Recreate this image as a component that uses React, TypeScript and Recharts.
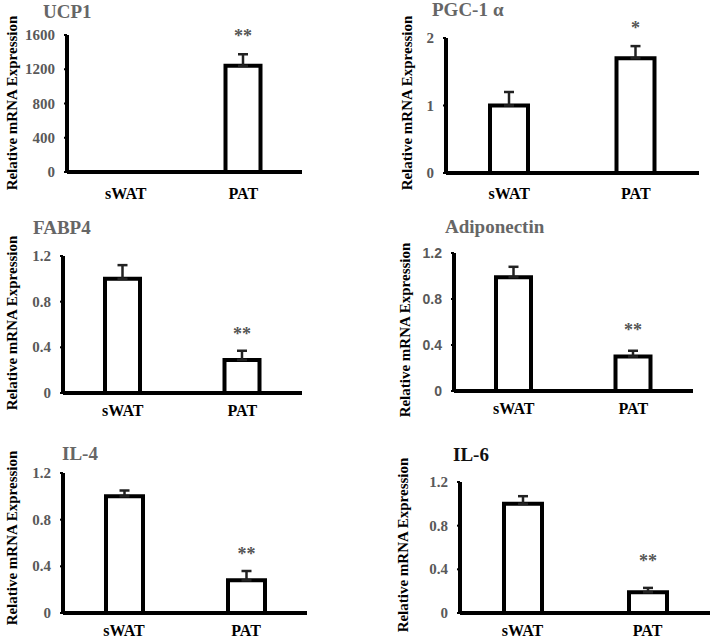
import { BarChart, Bar, XAxis, YAxis, ErrorBar, LabelList } from "recharts";

const GROUPS = ["sWAT", "PAT"];

const UCP1_MEAN = [1, 1240];
const UCP1_SEM = [0.5, 135];
const UCP1_SIG = ["", "**"];
const UCP1_TICKS = [0, 400, 800, 1200, 1600];

const PGC1A_MEAN = [1.0, 1.7];
const PGC1A_SEM = [0.2, 0.18];
const PGC1A_SIG = ["", "*"];
const PGC1A_TICKS = [0, 1, 2];

const FABP4_MEAN = [1.0, 0.29];
const FABP4_SEM = [0.12, 0.08];
const FABP4_SIG = ["", "**"];

const ADIPO_MEAN = [0.99, 0.3];
const ADIPO_SEM = [0.09, 0.05];
const ADIPO_SIG = ["", "**"];

const IL4_MEAN = [1.0, 0.28];
const IL4_SEM = [0.05, 0.08];
const IL4_SIG = ["", "**"];

const IL6_MEAN = [1.0, 0.19];
const IL6_SEM = [0.07, 0.04];
const IL6_SIG = ["", "**"];

const REL_TICKS = [0, 0.4, 0.8, 1.2];

const SERIF = "Liberation Serif, DejaVu Serif, Times New Roman, Times, serif";
const SANS = "Liberation Sans, Arial, sans-serif";

type Panel = {
  title: string;
  greek?: string;
  titleColor: string;
  mean: number[];
  sem: number[];
  sig: string[];
  ticks: number[];
  tickFont: string;
  tickSize: number;
  // layout
  axisX: number;
  top: number;
  zero: number;
  right: number;
  titleX: number;
  titleY: number;
  labelX: number;
  labelY: number;
  catDy: number;
  sigGap: number;
  barSize: number;
};

const PANELS: Panel[] = [
  {
    title: "UCP1", titleColor: "#666", mean: UCP1_MEAN, sem: UCP1_SEM, sig: UCP1_SIG, ticks: UCP1_TICKS,
    tickFont: SERIF, tickSize: 15,
    axisX: 67, top: 35, zero: 172, right: 302, titleX: 43, titleY: 12, labelX: 12, labelY: 103, catDy: 21, sigGap: 21, barSize: 35,
  },
  {
    title: "PGC-1", greek: "α", titleColor: "#666", mean: PGC1A_MEAN, sem: PGC1A_SEM, sig: PGC1A_SIG, ticks: PGC1A_TICKS,
    tickFont: SERIF, tickSize: 15,
    axisX: 446, top: 38, zero: 173, right: 699, titleX: 432, titleY: 10, labelX: 407, labelY: 103, catDy: 20, sigGap: 21, barSize: 38,
  },
  {
    title: "FABP4", titleColor: "#666", mean: FABP4_MEAN, sem: FABP4_SEM, sig: FABP4_SIG, ticks: REL_TICKS,
    tickFont: SERIF, tickSize: 15,
    axisX: 63, top: 256, zero: 393, right: 302, titleX: 33, titleY: 228, labelX: 12, labelY: 323, catDy: 17, sigGap: 20, barSize: 35,
  },
  {
    title: "Adiponectin", titleColor: "#666", mean: ADIPO_MEAN, sem: ADIPO_SEM, sig: ADIPO_SIG, ticks: REL_TICKS,
    tickFont: SANS, tickSize: 14,
    axisX: 454, top: 253, zero: 391, right: 693, titleX: 445, titleY: 227, labelX: 405, labelY: 330, catDy: 17, sigGap: 24, barSize: 35,
  },
  {
    title: "IL-4", titleColor: "#666", mean: IL4_MEAN, sem: IL4_SEM, sig: IL4_SIG, ticks: REL_TICKS,
    tickFont: SERIF, tickSize: 15,
    axisX: 63, top: 473, zero: 613, right: 307, titleX: 62, titleY: 454, labelX: 12, labelY: 538, catDy: 17, sigGap: 20, barSize: 37,
  },
  {
    title: "IL-6", titleColor: "#111", mean: IL6_MEAN, sem: IL6_SEM, sig: IL6_SIG, ticks: REL_TICKS,
    tickFont: SERIF, tickSize: 15,
    axisX: 460, top: 482, zero: 613, right: 710, titleX: 453, titleY: 455, labelX: 403, labelY: 545, catDy: 17, sigGap: 30, barSize: 38,
  },
];

const Y_W = 50;
const M_TOP = 40;
const M_RIGHT = 4;
const X_H = 30;

function GenePanel({ p }: { p: Panel }) {
  const data = GROUPS.map((g, i) => ({
    group: g,
    mean: p.mean[i],
    err: [0, p.sem[i]],
    sig: p.sig[i],
  }));
  const w = p.right - p.axisX + Y_W + M_RIGHT;
  const h = p.zero - p.top + M_TOP + X_H;
  const max = p.ticks[p.ticks.length - 1];

  const renderSig = (props: any) => {
    const { x, y, width, height, value, index } = props;
    if (!value) return null;
    const errPx = (height * p.sem[index]) / p.mean[index];
    const cy = y - errPx - p.sigGap;
    return (
      <text
        x={x + width / 2}
        y={cy + 9}
        textAnchor="middle"
        fill="#555"
        fontFamily={SERIF}
        fontWeight="bold"
        fontSize={18}
      >
        {value}
      </text>
    );
  };

  return (
    <>
      <div
        style={{
          position: "absolute",
          left: p.titleX,
          top: p.titleY - 11,
          lineHeight: "22px",
          fontFamily: SERIF,
          fontWeight: "bold",
          fontSize: 19,
          color: p.titleColor,
          whiteSpace: "nowrap",
        }}
      >
        {p.title}
        {p.greek && <span style={{ marginLeft: 5 }}>{p.greek}</span>}
      </div>
      <div
        style={{
          position: "absolute",
          left: p.labelX,
          top: p.labelY,
          transform: "translate(-50%, -50%) rotate(-90deg)",
          fontFamily: SERIF,
          fontWeight: "bold",
          fontSize: 15,
          color: "#000",
          whiteSpace: "nowrap",
          lineHeight: "16px",
        }}
      >
        Relative mRNA Expression
      </div>
      <div style={{ position: "absolute", left: p.axisX - Y_W, top: p.top - M_TOP }}>
        <BarChart width={w} height={h} data={data} margin={{ top: M_TOP, right: M_RIGHT, left: 0, bottom: 0 }}>
          <XAxis
            dataKey="group"
            height={X_H}
            axisLine={{ stroke: "#000", strokeWidth: 4 }}
            tickLine={false}
            tickSize={0}
            tickMargin={0}
            interval={0}
            tick={(t: any) => (
              <text
                x={t.x}
                y={t.y + p.catDy}
                textAnchor="middle"
                dominantBaseline="central"
                fontFamily={SERIF}
                fontWeight="bold"
                fontSize={16}
                fill="#000"
              >
                {t.payload.value}
              </text>
            )}
          />
          <YAxis
            width={Y_W}
            domain={[0, max]}
            ticks={p.ticks}
            interval={0}
            allowDataOverflow
            axisLine={{ stroke: "#000", strokeWidth: 4 }}
            tickLine={{ stroke: "#000", strokeWidth: 2 }}
            tickSize={3}
            tickMargin={9}
            tick={(t: any) => (
              <text
                x={t.x}
                y={t.y}
                textAnchor="end"
                dominantBaseline="central"
                fontFamily={p.tickFont}
                fontWeight="bold"
                fontSize={p.tickSize}
                fill="#595959"
              >
                {t.payload.value}
              </text>
            )}
          />
          <Bar
            dataKey="mean"
            fill="#fff"
            stroke="#000"
            strokeWidth={4}
            barSize={p.barSize}
            isAnimationActive={false}
          >
            <ErrorBar dataKey="err" direction="y" width={5} stroke="#222" strokeWidth={2.5} />
            <LabelList dataKey="sig" content={renderSig} />
          </Bar>
        </BarChart>
      </div>
    </>
  );
}

export default function App() {
  return (
    <div
      style={{
        position: "absolute",
        left: 0,
        top: 0,
        width: 714,
        height: 639,
        background: "#fff",
        overflow: "hidden",
      }}
    >
      {PANELS.map((p) => (
        <GenePanel key={p.title} p={p} />
      ))}
    </div>
  );
}
